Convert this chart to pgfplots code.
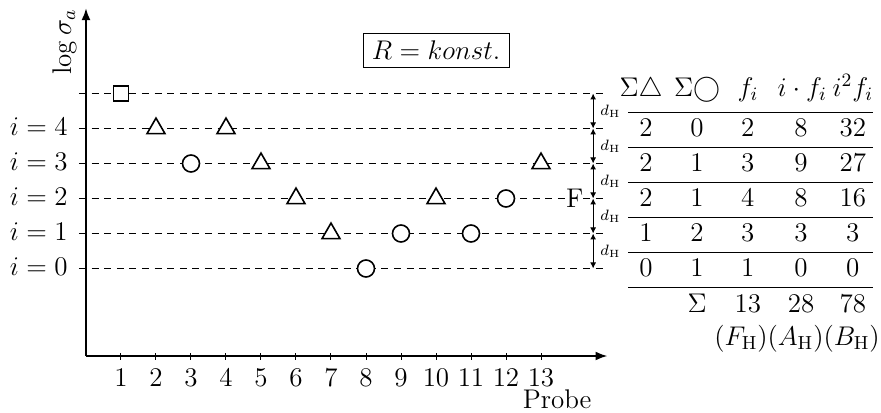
\RequirePackage{fix-cm}
\documentclass[border=0pt]{standalone}
\usepackage{pgfplots}
\pgfplotsset{compat=1.18}
\usetikzlibrary{arrows.meta}

\begin{document}
\fontsize{13.5}{16}\selectfont
\begin{tikzpicture}[font=\fontsize{13.5}{16}\selectfont]
\begin{axis}[
  x=17.5pt, y=17.5pt,
  xmin=0, xmax=14.9, ymin=-2.5, ymax=7.44,
  axis lines=left,
  axis line style={line width=1pt, -{Latex[length=6pt,width=4.5pt]}},
  xtick={1,...,13},
  ytick=\empty,
  tick align=center,
  major tick length=3.5pt,
  xtick style={line width=0.5pt, black},
  xticklabel style={inner sep=1pt, yshift=-3.75pt, font=\fontsize{13.5}{16}\selectfont},
  clip=false,
]
% horizontal level lines i = 0 ... 5
\pgfplotsinvokeforeach{0,...,5}{
  \draw[line width=0.6pt, dash pattern=on 3.5pt off 2.8pt]
    (axis cs:-0.2,#1) -- (axis cs:14.77,#1);
}

% samples: triangles, circles and the outlier square
\addplot[only marks, mark=triangle*, mark size=5.2pt,
  mark options={fill=white, draw=black, line width=0.8pt}]
  coordinates {(2,4) (4,4) (5,3) (6,2) (7,1) (10,2) (13,3)};
\addplot[only marks, mark=*, mark size=4.25pt,
  mark options={fill=white, draw=black, line width=0.8pt}]
  coordinates {(3,3) (8,0) (9,1) (11,1) (12,2)};
\addplot[only marks, mark=square*, mark size=3.75pt,
  mark options={fill=white, draw=black, line width=0.8pt}]
  coordinates {(1,5)};

% level labels
\pgfplotsinvokeforeach{0,...,4}{
  \node[anchor=base east, inner sep=0pt, yshift=-3.4pt] at (axis cs:-0.514,#1) {$i=#1$};
}
\node[rotate=90, inner sep=0pt] at (axis cs:-0.62,6.47) {$\log\sigma_a$};
\node[anchor=base, inner sep=0pt] at (axis cs:13.46,-3.99) {Probe};

\node[draw, line width=0.4pt, inner xsep=4.4pt, inner ysep=3.8pt] at (axis cs:10,6.24) {$R=konst.$};

% step width arrows
\pgfplotsinvokeforeach{0,...,4}{
  \draw[line width=0.5pt, {Latex[length=3pt,width=3pt]}-{Latex[length=3pt,width=3pt]}]
    (axis cs:14.49,#1) -- (axis cs:14.49,{#1+1});
  \node[inner sep=0pt, font=\fontsize{7.5}{9}\selectfont] at (axis cs:14.98,{#1+0.5}) {$d_{\mathrm{H}}$};
}
\node[anchor=east, inner sep=0pt] at (axis cs:14.22,2) {F};

% frequency table
\node[anchor=base] at (axis cs:15.86,4.91) {$\Sigma\triangle$};
\node[anchor=base] at (axis cs:17.46,4.91) {$\Sigma\bigcirc$};
\node[anchor=base] at (axis cs:18.91,4.91) {$f_i$};
\node[anchor=base] at (axis cs:20.46,4.91) {$i\cdot f_i$};
\node[anchor=base] at (axis cs:21.91,4.91) {$i^2f_i$};

\pgfplotsinvokeforeach{4.47,3.47,2.47,1.47,0.47,-0.53}{
  \draw[line width=0.5pt] (axis cs:15.49,#1) -- (axis cs:22.49,#1);
}

% rows i = 4 ... 0
\node[anchor=base] at (axis cs:16.0,3.771) {2};
\node[anchor=base] at (axis cs:17.46,3.771) {0};
\node[anchor=base] at (axis cs:18.91,3.771) {2};
\node[anchor=base] at (axis cs:20.43,3.771) {8};
\node[anchor=base] at (axis cs:21.91,3.771) {32};

\node[anchor=base] at (axis cs:16.0,2.771) {2};
\node[anchor=base] at (axis cs:17.46,2.771) {1};
\node[anchor=base] at (axis cs:18.91,2.771) {3};
\node[anchor=base] at (axis cs:20.43,2.771) {9};
\node[anchor=base] at (axis cs:21.91,2.771) {27};

\node[anchor=base] at (axis cs:16.0,1.771) {2};
\node[anchor=base] at (axis cs:17.46,1.771) {1};
\node[anchor=base] at (axis cs:18.91,1.771) {4};
\node[anchor=base] at (axis cs:20.43,1.771) {8};
\node[anchor=base] at (axis cs:21.91,1.771) {16};

\node[anchor=base] at (axis cs:16.0,0.771) {1};
\node[anchor=base] at (axis cs:17.46,0.771) {2};
\node[anchor=base] at (axis cs:18.91,0.771) {3};
\node[anchor=base] at (axis cs:20.43,0.771) {3};
\node[anchor=base] at (axis cs:21.91,0.771) {3};

\node[anchor=base] at (axis cs:16.0,-0.229) {0};
\node[anchor=base] at (axis cs:17.46,-0.229) {1};
\node[anchor=base] at (axis cs:18.91,-0.229) {1};
\node[anchor=base] at (axis cs:20.43,-0.229) {0};
\node[anchor=base] at (axis cs:21.91,-0.229) {0};

% sums
\node[anchor=base] at (axis cs:17.46,-1.27) {$\Sigma$};
\node[anchor=base] at (axis cs:18.91,-1.27) {13};
\node[anchor=base] at (axis cs:20.43,-1.27) {28};
\node[anchor=base] at (axis cs:21.91,-1.27) {78};

\node[anchor=base east, inner sep=0pt] at (axis cs:22.69,-2.19)
  {$(F_{\mathrm{H}})(A_{\mathrm{H}})(B_{\mathrm{H}})$};

\coordinate (BL) at (axis cs:-2.457,-4.1);
\coordinate (TR) at (axis cs:22.714,7.671);
\end{axis}
\pgfresetboundingbox
\useasboundingbox (BL) rectangle (TR);
\end{tikzpicture}
\end{document}
